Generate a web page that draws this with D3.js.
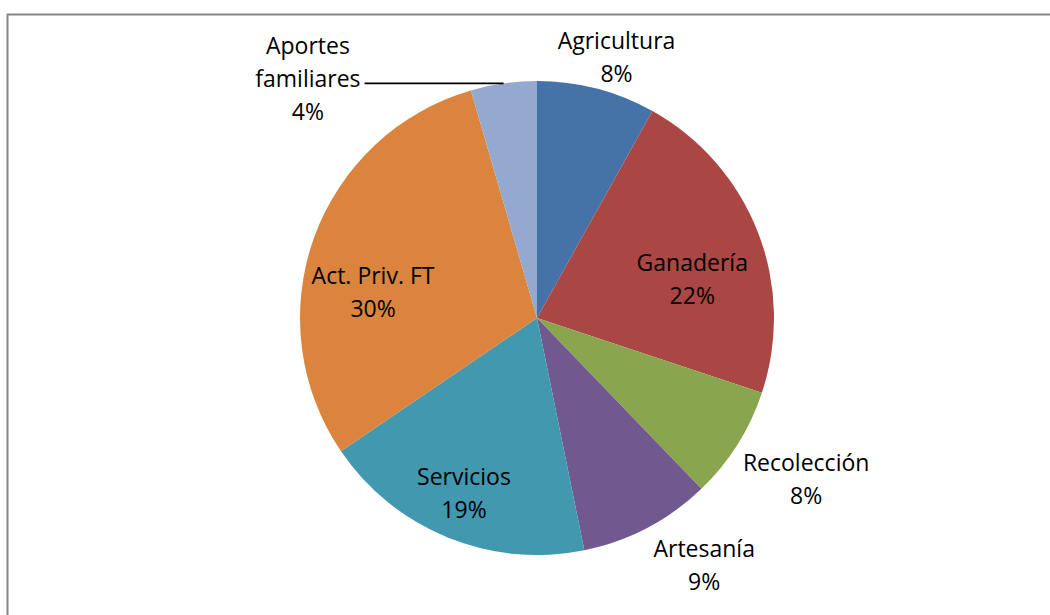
<!DOCTYPE html>
<html>
<head>
<meta charset="utf-8">
<script src="https://cdn.jsdelivr.net/npm/d3@7"></script>
<style>
  body { margin: 0; background: #fff; }
  svg text { font-family: "Open Sans", Lato, sans-serif; fill: #000; }
</style>
</head>
<body>
<svg id="chart" width="1050" height="615"></svg>
<script>
// data
const categories = ['Agricultura', 'Ganadería', 'Recolección', 'Artesanía', 'Servicios', 'Act. Priv. FT', 'Aportes familiares'];
const shares = [8.1, 22.0, 7.7, 9.0, 18.7, 30.0, 4.5];
const pctLabels = ['8%', '22%', '8%', '9%', '19%', '30%', '4%'];

const colors = ['#4572a7', '#aa4643', '#89a54e', '#71588f', '#4198af', '#db843d', '#93a9cf'];

// where each label sits: polar (degrees from top, radius) around the pie centre
const labelPos = {
  'Agricultura': { a: 17, r: 272 },
  'Ganadería': { a: 76, r: 160 },
  'Recolección': { a: 121, r: 314 },
  'Artesanía': { a: 146, r: 299 },
  'Servicios': { a: 202.6, r: 190 },
  'Act. Priv. FT': { a: 279, r: 166 },
  'Aportes familiares': { a: 316.2, r: 331, lines: ['Aportes', 'familiares'] }
};

const width = 1050, height = 615;
const cx = 537, cy = 318, radius = 237;
const fontSize = 23, lineH = 33;

const svg = d3.select('#chart');

// chart area border
svg.append('rect')
  .attr('x', 7.5).attr('y', 14.5)
  .attr('width', width + 10).attr('height', height + 10)
  .attr('fill', 'none')
  .attr('stroke', '#868686')
  .attr('stroke-width', 2);

const data = categories.map((c, i) => ({ name: c, value: shares[i], pct: pctLabels[i], color: colors[i] }));

const pie = d3.pie().value(d => d.value).sort(null);
const arc = d3.arc().innerRadius(0).outerRadius(radius);
const arcs = pie(data);

const g = svg.append('g').attr('transform', 'translate(' + cx + ',' + cy + ')');

g.selectAll('path.slice')
  .data(arcs)
  .enter()
  .append('path')
  .attr('class', 'slice')
  .attr('d', arc)
  .attr('fill', d => d.data.color);

const polar = (a, r) => {
  const t = a * Math.PI / 180;
  return [Math.sin(t) * r, -Math.cos(t) * r];
};

// labels
g.selectAll('g.lbl')
  .data(arcs)
  .enter()
  .append('g')
  .attr('class', 'lbl')
  .each(function(d) {
    const pos = labelPos[d.data.name];
    const lines = (pos.lines || [d.data.name]).concat([d.data.pct]);
    const p = polar(pos.a, pos.r);
    const top = p[1] - (lines.length - 1) * lineH / 2;
    const t = d3.select(this).append('text')
      .attr('text-anchor', 'middle')
      .attr('font-size', fontSize);
    lines.forEach((ln, i) => {
      t.append('tspan')
        .attr('x', p[0])
        .attr('y', top + i * lineH)
        .attr('dy', '0.35em')
        .text(ln);
    });
    d.labelNode = t.node();
  });

// leader line for the small slice
const small = arcs[arcs.length - 1];
const mid = (small.startAngle + small.endAngle) / 2;
const edge = [Math.sin(mid) * radius, -Math.cos(mid) * radius];
const bb = small.labelNode.getBBox();
g.append('line')
  .attr('x1', edge[0]).attr('y1', edge[1])
  .attr('x2', bb.x + bb.width + 4).attr('y2', edge[1])
  .attr('stroke', '#000')
  .attr('stroke-width', 1.8);
</script>
</body>
</html>
